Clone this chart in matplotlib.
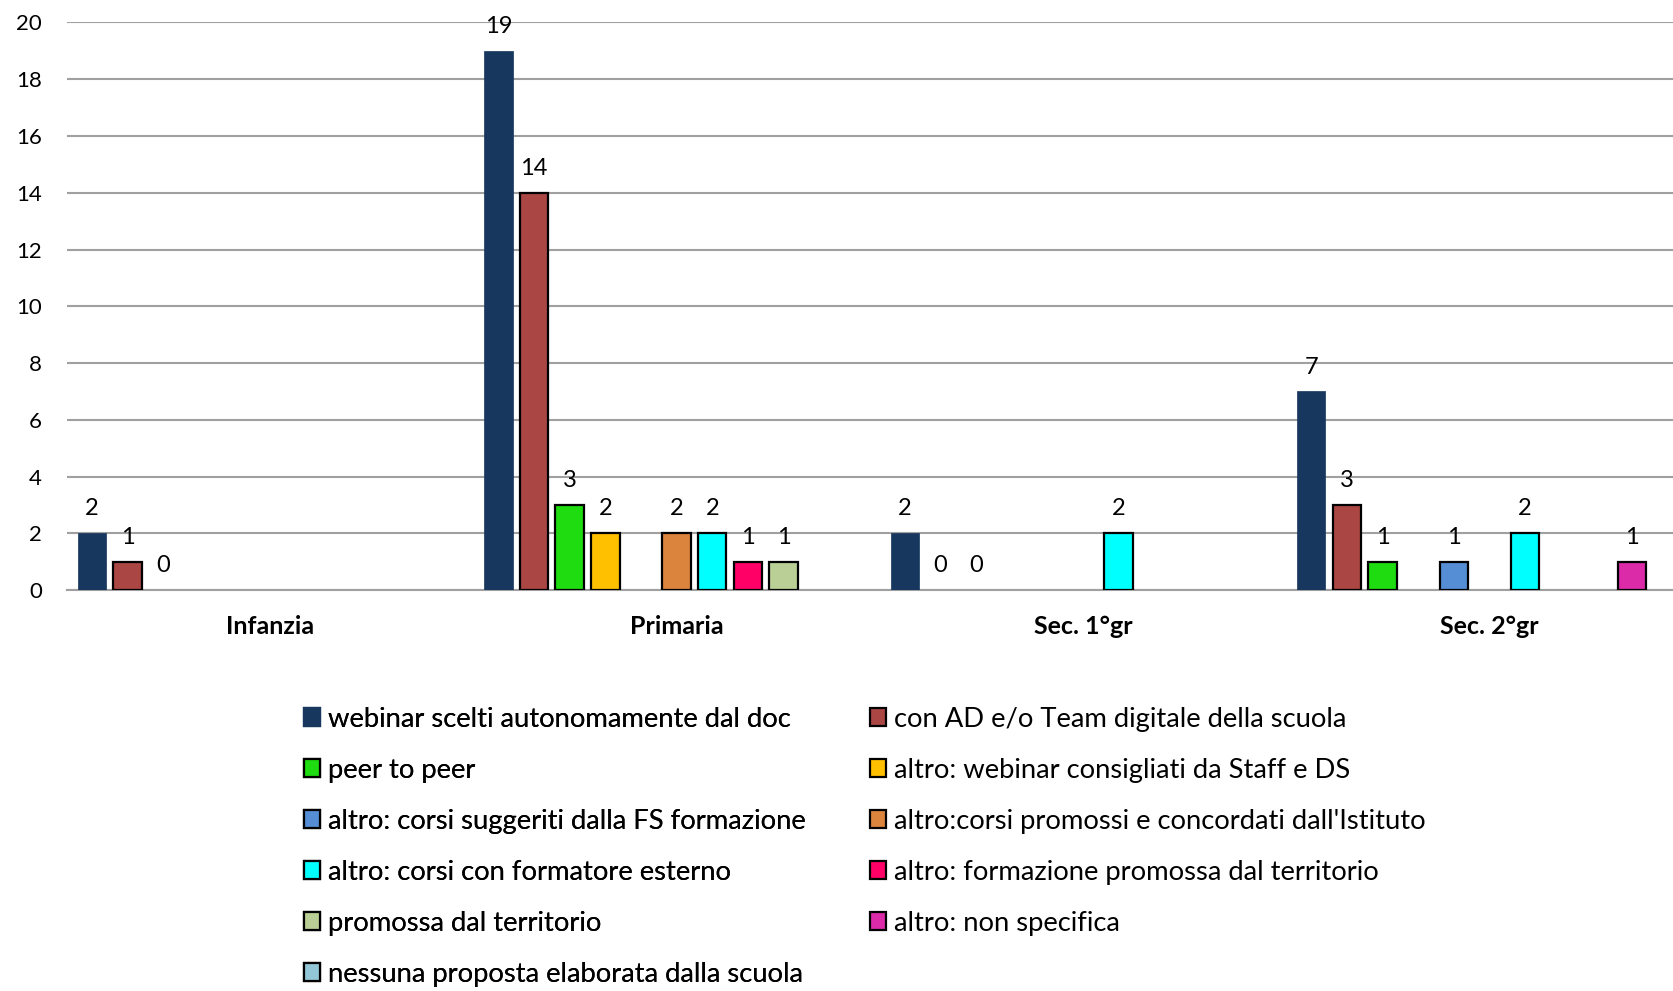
import numpy as np
import matplotlib
matplotlib.use("Agg")
import matplotlib.pyplot as plt
from matplotlib.patches import Patch

plt.rcParams['font.family'] = ['Lato', 'DejaVu Sans']

categories = ["Infanzia", "Primaria", "Sec. 1°gr", "Sec. 2°gr"]

series_names = [
    "webinar scelti autonomamente dal doc",
    "con AD e/o Team digitale della scuola",
    "peer to peer",
    "altro: webinar consigliati da Staff e DS",
    "altro: corsi suggeriti dalla FS formazione",
    "altro:corsi promossi e concordati dall'Istituto",
    "altro: corsi con formatore esterno",
    "altro: formazione promossa dal territorio",
    "promossa dal territorio",
    "altro: non specifica",
    "nessuna proposta elaborata dalla scuola",
]

nan = np.nan
webinar_doc = [2, 19, 2, 7]
con_ad_team = [1, 14, 0, 3]
peer_to_peer = [0, 3, 0, 1]
webinar_staff_ds = [nan, 2, nan, nan]
corsi_fs = [nan, nan, nan, 1]
corsi_istituto = [nan, 2, nan, nan]
corsi_formatore = [nan, 2, 2, 2]
formazione_territorio = [nan, 1, nan, nan]
promossa_territorio = [nan, 1, nan, nan]
non_specifica = [nan, nan, nan, 1]
nessuna_proposta = [nan, nan, nan, nan]

series_values = [webinar_doc, con_ad_team, peer_to_peer, webinar_staff_ds,
                 corsi_fs, corsi_istituto, corsi_formatore,
                 formazione_territorio, promossa_territorio, non_specifica,
                 nessuna_proposta]

colors = ["#17375E", "#AA4643", "#1EDC10", "#FFC000", "#558ED5", "#DB843D",
          "#00FFFF", "#FF0066", "#B9CF96", "#DB2BA8", "#93C6D6"]

fig = plt.figure(figsize=(16.74, 9.91), dpi=100)
ax = fig.add_axes([0.040, 0.4046, 0.960, 0.5727])

x = np.arange(len(categories))
n = len(series_names)
pitch = 0.0877
width = 0.070

for i, (vals, col) in enumerate(zip(series_values, colors)):
    vals = np.array(vals, dtype=float)
    pos = x + (i - (n - 1) / 2) * pitch
    edge = col if i == 0 else "black"
    lw = 0.5 if i == 0 else 1.6
    bars = ax.bar(pos, vals, width=width, color=col, edgecolor=edge,
                  linewidth=lw, zorder=3)
    for b, p, v in zip(bars, pos, vals):
        if np.isnan(v):
            continue
        if v == 0:
            b.set_visible(False)
        ax.annotate(f"{int(v)}", (p, v), xytext=(0, 10), textcoords="offset points",
                    ha="center", va="bottom", fontsize=17, color="black", zorder=4)

ax.set_xlim(-0.5, 3.454)
ax.set_ylim(0, 20)
ax.set_yticks(np.arange(0, 21, 2))
ax.yaxis.grid(True, color="#A0A0A0", linewidth=1.5, zorder=0)
ax.set_axisbelow(True)
for s in ["left", "right", "top"]:
    ax.spines[s].set_visible(False)
ax.spines["bottom"].set_color("#A0A0A0")
ax.spines["bottom"].set_linewidth(1.5)
ax.tick_params(axis="y", length=0, pad=18, labelsize=16)
ax.tick_params(axis="x", length=0, pad=18, labelsize=18)
ax.set_xticks(x)
ax.set_xticklabels(categories, fontweight="bold")

handles = [Patch(facecolor=c, edgecolor=(c if i == 0 else "black"), linewidth=1.6)
           for i, c in enumerate(colors)]
leg_kw = dict(loc="upper left", frameon=False, fontsize=19.7, handlelength=0.6,
              handleheight=0.6, handletextpad=0.28, labelspacing=0.95,
              borderpad=0, borderaxespad=0)
left_col = [0, 2, 4, 6, 8, 10]
right_col = [1, 3, 5, 7, 9]
leg1 = fig.legend([handles[i] for i in left_col], [series_names[i] for i in left_col],
                  bbox_to_anchor=(0.1816, 0.287), **leg_kw)
fig.add_artist(leg1)
fig.legend([handles[i] for i in right_col], [series_names[i] for i in right_col],
           bbox_to_anchor=(0.5197, 0.287), **leg_kw)

fig.savefig("out.png", dpi=100, facecolor="white")
